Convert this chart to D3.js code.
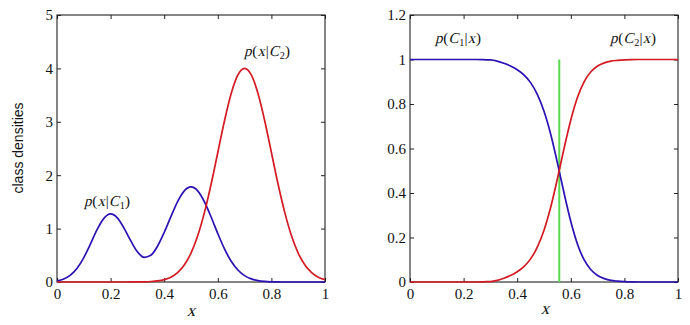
<!DOCTYPE html>
<html>
<head>
<meta charset="utf-8">
<script src="https://cdn.jsdelivr.net/npm/d3@7"></script>
<style>
  html, body { margin: 0; padding: 0; background: #fff; }
  svg { display: block; }
  .serif { font-family: "Liberation Serif", "Times New Roman", serif; }
</style>
</head>
<body>
<svg id="chart" width="690" height="325"></svg>
<script>
// ---------- data ----------
const xs = [0, 0.025, 0.05, 0.075, 0.1, 0.125, 0.15, 0.175, 0.2, 0.225, 0.25, 0.275, 0.3, 0.325, 0.35, 0.375, 0.4, 0.425, 0.45, 0.475, 0.5,
            0.525, 0.55, 0.575, 0.6, 0.625, 0.65, 0.675, 0.7, 0.725, 0.75, 0.775, 0.8, 0.825, 0.85, 0.875, 0.9, 0.925, 0.95, 0.975, 1];
// class-conditional densities p(x|C1) (blue) and p(x|C2) (red)
const densityC1 = [0.021, 0.056, 0.128, 0.258, 0.458, 0.715, 0.984, 1.192, 1.274, 1.202, 1.010, 0.774, 0.565, 0.462, 0.500, 0.670, 0.927, 1.224, 1.506, 1.707, 1.780,
                   1.707, 1.503, 1.217, 0.906, 0.619, 0.389, 0.225, 0.119, 0.058, 0.026, 0.011, 0.004, 0.001, 0, 0, 0, 0, 0, 0, 0];
const densityC2 = [0, 0, 0, 0, 0, 0, 0, 0, 0, 0, 0, 0.0005, 0.0013, 0.0035, 0.009, 0.020, 0.044, 0.091, 0.176, 0.318, 0.541,
                   0.865, 1.299, 1.831, 2.426, 3.019, 3.530, 3.877, 4.0, 3.877, 3.530, 3.019, 2.426, 1.831, 1.299, 0.865, 0.541, 0.318, 0.176, 0.091, 0.044];
// posterior probabilities p(C1|x) (blue) and p(C2|x) (red)
const posteriorC1 = [1, 1, 1, 1, 1, 1, 1, 1, 1, 1, 1, 0.999, 0.998, 0.993, 0.983, 0.971, 0.954, 0.931, 0.896, 0.843, 0.767,
                     0.664, 0.536, 0.399, 0.272, 0.170, 0.099, 0.055, 0.029, 0.015, 0.007, 0.004, 0.002, 0.0005, 0, 0, 0, 0, 0, 0, 0];
const posteriorC2 = [0, 0, 0, 0, 0, 0, 0, 0, 0, 0, 0, 0.001, 0.002, 0.007, 0.017, 0.029, 0.046, 0.069, 0.104, 0.157, 0.233,
                     0.336, 0.464, 0.601, 0.728, 0.830, 0.901, 0.945, 0.971, 0.985, 0.993, 0.996, 0.998, 0.9995, 1, 1, 1, 1, 1, 1, 1];
const decisionX = [0.557];
const decisionY = [0, 1];

const xTickValues = [0, 0.2, 0.4, 0.6, 0.8, 1];
const xTickLabels = ["0", "0.2", "0.4", "0.6", "0.8", "1"];
const leftYTickValues = [0, 1, 2, 3, 4, 5];
const leftYTickLabels = ["0", "1", "2", "3", "4", "5"];
const rightYTickValues = [0, 0.2, 0.4, 0.6, 0.8, 1, 1.2];
const rightYTickLabels = ["0", "0.2", "0.4", "0.6", "0.8", "1", "1.2"];

// ---------- drawing ----------
const svg = d3.select("#chart");
const BLUE = "#2a12b4", RED = "#d41a22", GREEN = "#5ada4e";

function panel(x0, x1, y0, y1, yDomain, yTicks, yLabels) {
  const x = d3.scaleLinear().domain([0, 1]).range([x0, x1]);
  const y = d3.scaleLinear().domain(yDomain).range([y1, y0]);
  const g = svg.append("g");
  const fmt = (labels, vals) => (d) => labels[vals.indexOf(d)];

  const bottom = g.append("g").attr("transform", `translate(0,${y1})`)
    .call(d3.axisBottom(x).tickValues(xTickValues).tickFormat(fmt(xTickLabels, xTickValues))
      .tickSizeInner(-4).tickSizeOuter(0).tickPadding(6));
  const top = g.append("g").attr("transform", `translate(0,${y0})`)
    .call(d3.axisTop(x).tickValues(xTickValues).tickFormat("").tickSizeInner(-4).tickSizeOuter(0));
  const left = g.append("g").attr("transform", `translate(${x0},0)`)
    .call(d3.axisLeft(y).tickValues(yTicks).tickFormat(fmt(yLabels, yTicks))
      .tickSizeInner(-4).tickSizeOuter(0).tickPadding(4));
  const right = g.append("g").attr("transform", `translate(${x1},0)`)
    .call(d3.axisRight(y).tickValues(yTicks).tickFormat("").tickSizeInner(-4).tickSizeOuter(0));
  [bottom, top, left, right].forEach(a => {
    a.select(".domain").remove();
    a.selectAll(".tick line").attr("stroke", "#222");
    a.attr("font-family", null).attr("font-size", null);
    a.selectAll(".tick text").attr("class", "serif").attr("font-size", 15).attr("fill", "#111");
  });
  g.append("rect").attr("x", x0).attr("y", y0).attr("width", x1 - x0).attr("height", y1 - y0)
    .attr("fill", "none").attr("stroke", "#222").attr("stroke-width", 1.1);
  return { x, y, g };
}

function curve(p, values, color) {
  const line = d3.line().x((d, i) => p.x(xs[i])).y(d => p.y(d)).curve(d3.curveMonotoneX);
  p.g.append("path").datum(values).attr("d", line)
    .attr("fill", "none").attr("stroke", color).attr("stroke-width", 1.7);
}

// math label built piece by piece; italic pieces are slanted regular serif glyphs
function mathLabel(x, y, parts, size = 15) {
  const g = svg.append("g");
  let cx = x;
  parts.forEach(([s, style]) => {
    const italic = style === "i";
    const sub = style === "sub";
    const fs = sub ? size * 0.68 : size;
    const by = sub ? y + 3 : y;
    const t = g.append("text").attr("class", "serif").attr("font-size", fs).attr("fill", "#111")
      .attr("transform", `translate(${cx},${by})` + (italic ? " skewX(-14)" : ""))
      .text(s);
    cx += t.node().getComputedTextLength() + (italic ? 0.8 : 0.2);
  });
  return g;
}

// Left panel: class densities
const L = panel(57, 325, 15, 282, [0, 5], leftYTickValues, leftYTickLabels);
curve(L, densityC1, BLUE);
curve(L, densityC2, RED);
mathLabel(84, 206, [["p", "i"], ["("], ["x", "i"], ["|"], ["C", "i"], ["1", "sub"], [")"]]);
mathLabel(244, 56, [["p", "i"], ["("], ["x", "i"], ["|"], ["C", "i"], ["2", "sub"], [")"]]);
svg.append("text").attr("transform", "translate(23,148) rotate(-90)").attr("text-anchor", "middle")
  .attr("font-family", "'Liberation Sans', Arial, sans-serif").attr("font-size", 14).attr("fill", "#111")
  .text("class densities");
svg.append("text").attr("class", "serif").attr("font-size", 17).attr("fill", "#111")
  .attr("text-anchor", "middle").attr("transform", "translate(191,316) skewX(-14)").text("x");

// Right panel: posteriors
const R = panel(410, 678, 15, 282, [0, 1.2], rightYTickValues, rightYTickLabels);
R.g.append("line")
  .attr("x1", R.x(decisionX[0])).attr("x2", R.x(decisionX[0]))
  .attr("y1", R.y(decisionY[0])).attr("y2", R.y(decisionY[1]))
  .attr("stroke", GREEN).attr("stroke-width", 2);
curve(R, posteriorC1, BLUE);
curve(R, posteriorC2, RED);
mathLabel(435, 43, [["p", "i"], ["("], ["C", "i"], ["1", "sub"], ["|"], ["x", "i"], [")"]]);
mathLabel(610, 43, [["p", "i"], ["("], ["C", "i"], ["2", "sub"], ["|"], ["x", "i"], [")"]]);
svg.append("text").attr("class", "serif").attr("font-size", 17).attr("fill", "#111")
  .attr("text-anchor", "middle").attr("transform", "translate(545,314) skewX(-14)").text("x");
</script>
</body>
</html>
